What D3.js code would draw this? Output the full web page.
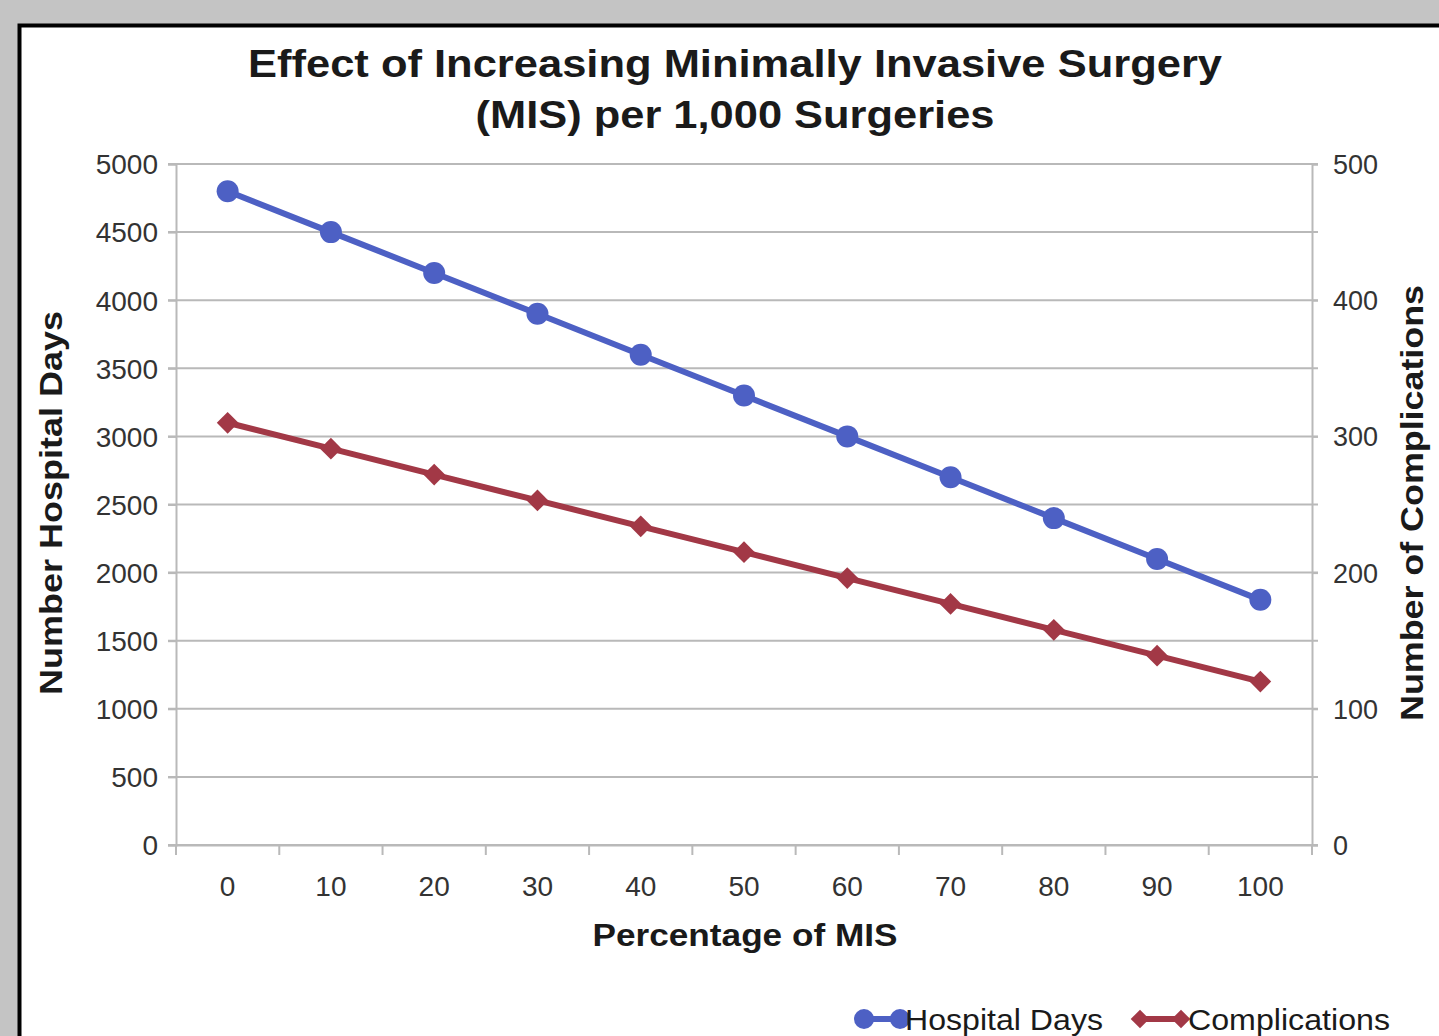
<!DOCTYPE html>
<html>
<head>
<meta charset="utf-8">
<script src="https://cdn.jsdelivr.net/npm/d3@7"></script>
<style>
  html, body { margin: 0; padding: 0; background: #c4c4c4; }
  svg { display: block; font-family: "Liberation Sans", Arial, sans-serif; }
</style>
</head>
<body>
<svg id="chart" width="1439" height="1036"></svg>
<script>
// Percentage of minimally invasive surgery (x categories)
const categories = ["0", "10", "20", "30", "40", "50", "60", "70", "80", "90", "100"];
// Hospital days per 1,000 surgeries (left axis)
const hospitalDays = [4800, 4500, 4200, 3900, 3600, 3300, 3000, 2700, 2400, 2100, 1800];
// Complications per 1,000 surgeries (right axis)
const complications = [310, 291, 272, 253, 234, 215, 196, 177, 158, 139, 120];
const leftTicks = [0, 500, 1000, 1500, 2000, 2500, 3000, 3500, 4000, 4500, 5000];
const rightTicks = [0, 100, 200, 300, 400, 500];
const titleLines = ["Effect of Increasing Minimally Invasive Surgery", "(MIS) per 1,000 Surgeries"];

const svg = d3.select("#chart");
const W = 1439, H = 1036;

// white panel with heavy black frame running off the right and bottom edges
svg.append("rect").attr("x", 0).attr("y", 0).attr("width", W).attr("height", H).attr("fill", "#c4c4c4");
svg.append("rect").attr("x", 19.5).attr("y", 25.5).attr("width", W).attr("height", H)
  .attr("fill", "#fff").attr("stroke", "#000").attr("stroke-width", 4);

const plot = { left: 176, right: 1312, top: 164, bottom: 845 };

const x = d3.scaleBand().domain(categories).range([plot.left, plot.right]).padding(0);
const yL = d3.scaleLinear().domain([0, 5000]).range([plot.bottom, plot.top]);
const yR = d3.scaleLinear().domain([0, 500]).range([plot.bottom, plot.top]);

const gridColor = "#b9b9b9";
const textColor = "#333";
const darkText = "#1a1a1a";

// horizontal gridlines
svg.append("g").selectAll("line").data(leftTicks).join("line")
  .attr("x1", plot.left - 8).attr("x2", plot.right + 6)
  .attr("y1", d => yL(d)).attr("y2", d => yL(d))
  .attr("stroke", gridColor).attr("stroke-width", 2);

// left axis
const gl = svg.append("g").attr("transform", `translate(${plot.left},0)`)
  .call(d3.axisLeft(yL).tickValues(leftTicks).tickFormat(d3.format("d")).tickSize(8).tickPadding(10));
// right axis
const gr = svg.append("g").attr("transform", `translate(${plot.right},0)`)
  .call(d3.axisRight(yR).tickValues(rightTicks).tickFormat(d3.format("d")).tickSize(6).tickPadding(15));
// bottom axis: ticks on category boundaries, labels at centres
const gb = svg.append("g").attr("transform", `translate(0,${plot.bottom})`)
  .call(d3.axisBottom(x).tickSize(0).tickPadding(31));
const boundaries = categories.map(c => x(c)).concat([plot.right]);
svg.append("g").selectAll("line").data(boundaries).join("line")
  .attr("x1", d => d).attr("x2", d => d)
  .attr("y1", plot.bottom).attr("y2", plot.bottom + 10)
  .attr("stroke", gridColor).attr("stroke-width", 2);

[gl, gr, gb].forEach(g => {
  g.select(".domain").attr("stroke", gridColor).attr("stroke-width", 2);
  g.selectAll(".tick line").attr("stroke", gridColor).attr("stroke-width", 2);
  g.selectAll(".tick text").attr("fill", textColor)
    .style("font-size", "28px").style("font-family", "'Liberation Sans', Arial, sans-serif");
});
gr.selectAll(".tick text").style("font-size", "27px");
gl.selectAll(".tick text").attr("dy", "0.35em");
gr.selectAll(".tick text").attr("dy", "0.35em");

// series lines and markers
const blue = "#4d60c4", red = "#a23846";
const cx = i => x(categories[i]) + x.bandwidth() / 2;
const lineL = d3.line().x((d, i) => cx(i)).y(d => yL(d));
const lineR = d3.line().x((d, i) => cx(i)).y(d => yR(d));

svg.append("path").datum(hospitalDays).attr("d", lineL)
  .attr("fill", "none").attr("stroke", blue).attr("stroke-width", 6);
svg.append("g").selectAll("circle").data(hospitalDays).join("circle")
  .attr("cx", (d, i) => cx(i)).attr("cy", d => yL(d)).attr("r", 11).attr("fill", blue);

svg.append("path").datum(complications).attr("d", lineR)
  .attr("fill", "none").attr("stroke", red).attr("stroke-width", 6);
const diamond = d3.symbol().type(d3.symbolDiamond2).size(300);
svg.append("g").selectAll("path").data(complications).join("path")
  .attr("transform", (d, i) => `translate(${cx(i)},${yR(d)})`)
  .attr("d", diamond).attr("fill", red);

// title
const titleWidths = [974, 519];
svg.append("g").selectAll("text").data(titleLines).join("text")
  .attr("x", 735).attr("y", (d, i) => 77 + i * 51)
  .attr("text-anchor", "middle").attr("fill", darkText)
  .attr("textLength", (d, i) => titleWidths[i]).attr("lengthAdjust", "spacingAndGlyphs")
  .style("font-size", "38px").style("font-weight", "bold")
  .text(d => d);

// axis titles
function boldLabel(transform, txt, len) {
  svg.append("text").attr("transform", transform)
    .attr("text-anchor", "middle").attr("fill", darkText)
    .attr("textLength", len).attr("lengthAdjust", "spacingAndGlyphs")
    .style("font-size", "31px").style("font-weight", "bold")
    .text(txt);
}
boldLabel("translate(62,503) rotate(-90)", "Number Hospital Days", 384);
boldLabel("translate(1423,503) rotate(-90)", "Number of Complications", 436);
boldLabel("translate(745,946)", "Percentage of MIS", 305);

// legend
const legend = svg.append("g");
const ly = 1019;
legend.append("line").attr("x1", 858).attr("x2", 904).attr("y1", ly).attr("y2", ly)
  .attr("stroke", blue).attr("stroke-width", 6);
legend.selectAll("circle").data([864, 900]).join("circle")
  .attr("cx", d => d).attr("cy", ly).attr("r", 10).attr("fill", blue);
legend.append("text").attr("x", 905).attr("y", ly + 11).attr("fill", darkText)
  .attr("textLength", 198).attr("lengthAdjust", "spacingAndGlyphs")
  .style("font-size", "30px").text("Hospital Days");
legend.append("line").attr("x1", 1134).attr("x2", 1184).attr("y1", ly).attr("y2", ly)
  .attr("stroke", red).attr("stroke-width", 6);
legend.selectAll("path").data([1140, 1181]).join("path")
  .attr("transform", d => `translate(${d},${ly})`)
  .attr("d", d3.symbol().type(d3.symbolDiamond2).size(220)).attr("fill", red);
legend.append("text").attr("x", 1188).attr("y", ly + 11).attr("fill", darkText)
  .attr("textLength", 202).attr("lengthAdjust", "spacingAndGlyphs")
  .style("font-size", "30px").text("Complications");
</script>
</body>
</html>
